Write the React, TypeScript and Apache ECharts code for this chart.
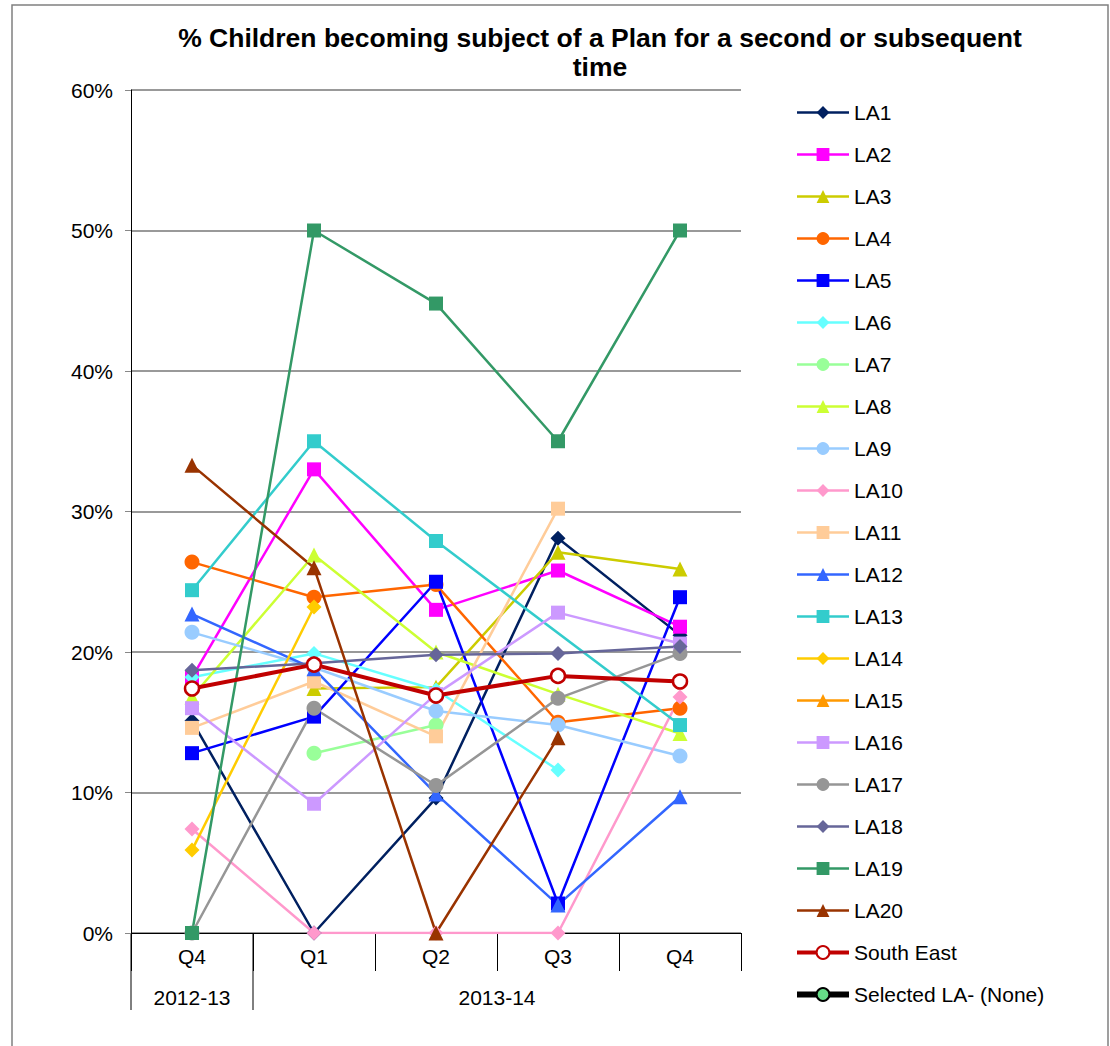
import React, { useEffect, useRef } from "react";
import * as echarts from "echarts";

const categories = ["Q4", "Q1", "Q2", "Q3", "Q4"];
const yearLabels = ["2012-13", "2013-14"];
const yearSpans = [1, 4];
const yTicks = [0, 10, 20, 30, 40, 50, 60];

const la1 = [15.1, 0, 9.6, 28.1, 21.2];
const la2 = [18.2, 33.0, 23.0, 25.8, 21.8];
const la3 = [null, 17.4, 17.5, 27.1, 25.9];
const la4 = [26.4, 23.9, 24.8, 15.0, 16.0];
const la5 = [12.8, 15.4, 25.0, 2.1, 23.9];
const la6 = [18.2, 19.9, 17.3, 11.6, null];
const la7 = [null, 12.8, 14.8, null, null];
const la8 = [16.8, 26.9, 20.0, 17.0, 14.2];
const la9 = [21.4, 18.9, 15.8, 14.8, 12.6];
const la10 = [7.4, 0, 0, 0, 16.8];
const la11 = [14.6, 17.9, 14.0, 30.2, null];
const la12 = [22.7, 18.8, 9.9, 2.0, 9.7];
const la13 = [24.4, 35.0, 27.9, null, 14.8];
const la14 = [5.9, 23.2, null, null, null];
const la15 = [null, null, null, null, null];
const la16 = [16.0, 9.2, 17.0, 22.8, 20.6];
const la17 = [0, 16.0, 10.5, 16.7, 19.9];
const la18 = [18.7, 19.2, 19.8, 19.9, 20.4];
const la19 = [0, 50.0, 44.8, 35.0, 50.0];
const la20 = [33.3, 26.0, 0, 13.9, null];
const southEast = [17.4, 19.1, 16.9, 18.3, 17.9];
const selectedLA = [null, null, null, null, null];

const laNames = ["LA1", "LA2", "LA3", "LA4", "LA5", "LA6", "LA7", "LA8", "LA9", "LA10",
  "LA11", "LA12", "LA13", "LA14", "LA15", "LA16", "LA17", "LA18", "LA19", "LA20"];
const laData = [la1, la2, la3, la4, la5, la6, la7, la8, la9, la10,
  la11, la12, la13, la14, la15, la16, la17, la18, la19, la20];
const laColors = ["#002060", "#ff00ff", "#cccc00", "#ff6600", "#0000ff", "#66ffff", "#99ff99",
  "#ccff33", "#99ccff", "#ff99cc", "#ffcc99", "#3366ff", "#33cccc", "#ffcc00", "#ff9900",
  "#cc99ff", "#969696", "#666699", "#339966", "#993300"];
const laSymbols = ["diamond", "rect", "triangle", "circle", "rect", "diamond", "circle",
  "triangle", "circle", "diamond", "rect", "triangle", "rect", "diamond", "triangle",
  "rect", "circle", "diamond", "rect", "triangle"];

const FONT = "'Liberation Sans', Arial, sans-serif";
const W = 1110;
const H = 1046;
const GRID_LEFT = 131;
const GRID_TOP = 90;
const GRID_W = 610;
const GRID_H = 843;

export default function App() {
  const ref = useRef<HTMLDivElement>(null);
  useEffect(() => {
    document.body.style.margin = "0";
    if (!ref.current) return;
    const chart = echarts.init(ref.current, null, { renderer: "svg" });

    const series: any[] = laNames.map((name, i) => ({
      name,
      type: "line",
      data: laData[i],
      symbol: laSymbols[i],
      symbolSize: laSymbols[i] === "rect" ? 14 : 15,
      connectNulls: name === "LA13",
      lineStyle: { color: laColors[i], width: 2.5 },
      itemStyle: { color: laColors[i] },
      emphasis: { disabled: true },
    }));
    series.push({
      name: "South East",
      type: "line",
      data: southEast,
      symbol: "circle",
      symbolSize: 14,
      lineStyle: { color: "#c00000", width: 4 },
      itemStyle: { color: "#ffffff", borderColor: "#c00000", borderWidth: 2.5 },
      emphasis: { disabled: true },
    });
    series.push({
      name: "Selected LA- (None)",
      type: "line",
      data: selectedLA,
      symbol: "circle",
      symbolSize: 14,
      lineStyle: { color: "#000000", width: 5 },
      itemStyle: { color: "#66dd88", borderColor: "#000000", borderWidth: 1.5 },
      emphasis: { disabled: true },
    });

    const catW = GRID_W / categories.length;
    const axisY = GRID_TOP + GRID_H;
    const graphics: any[] = [
      {
        type: "rect",
        shape: { x: 12, y: 5, width: 1096, height: 1060 },
        style: { fill: "none", stroke: "#808080", lineWidth: 1.5 },
        silent: true,
      },
      {
        type: "text",
        x: 600,
        y: 23,
        style: {
          text: "% Children becoming subject of a Plan for a second or subsequent\ntime",
          textAlign: "center",
          font: `bold 26.5px ${FONT}`,
          lineHeight: 29,
          fill: "#000",
        },
      },
    ];
    let start = 0;
    yearLabels.forEach((lab, i) => {
      const span = yearSpans[i];
      graphics.push({
        type: "text",
        x: GRID_LEFT + (start + span / 2) * catW,
        y: axisY + 64,
        style: { text: lab, textAlign: "center", textVerticalAlign: "middle", font: `21px ${FONT}`, fill: "#000" },
      });
      graphics.push({
        type: "line",
        shape: { x1: GRID_LEFT + start * catW, y1: axisY, x2: GRID_LEFT + start * catW, y2: axisY + 77 },
        style: { stroke: "#000", lineWidth: 1 },
      });
      start += span;
    });

    const legendData: any[] = laNames.map((name) => ({ name, lineStyle: { width: 2.5 } }));
    legendData.push({ name: "South East", lineStyle: { width: 4 } });
    legendData.push({ name: "Selected LA- (None)", lineStyle: { width: 6 } });

    chart.setOption({
      animation: false,
      grid: { left: GRID_LEFT, top: GRID_TOP, width: GRID_W, height: GRID_H },
      xAxis: {
        type: "category",
        data: categories,
        boundaryGap: true,
        axisLine: { lineStyle: { color: "#000", width: 1 } },
        axisTick: { show: true, interval: 0, length: 38, lineStyle: { color: "#000" } },
        axisLabel: { interval: 0, margin: 13, fontSize: 21, color: "#000", fontFamily: FONT },
        splitLine: { show: false },
      },
      yAxis: {
        type: "value",
        min: yTicks[0],
        max: yTicks[yTicks.length - 1],
        interval: 10,
        axisLine: { show: true, lineStyle: { color: "#000", width: 1 } },
        axisTick: { show: true, length: 6, lineStyle: { color: "#888" } },
        axisLabel: { formatter: "{value}%", margin: 18, fontSize: 21, color: "#000", fontFamily: FONT },
        splitLine: { show: true, lineStyle: { color: "#999", width: 2 } },
      },
      legend: {
        orient: "vertical",
        left: 789,
        top: 97,
        itemWidth: 52,
        itemHeight: 16,
        itemGap: 21,
        selectedMode: false,
        textStyle: { fontSize: 21, lineHeight: 21, color: "#000", fontFamily: FONT },
        data: legendData,
      },
      graphic: graphics,
      series,
    });
    return () => chart.dispose();
  }, []);
  return <div ref={ref} style={{ width: W, height: H }} />;
}
